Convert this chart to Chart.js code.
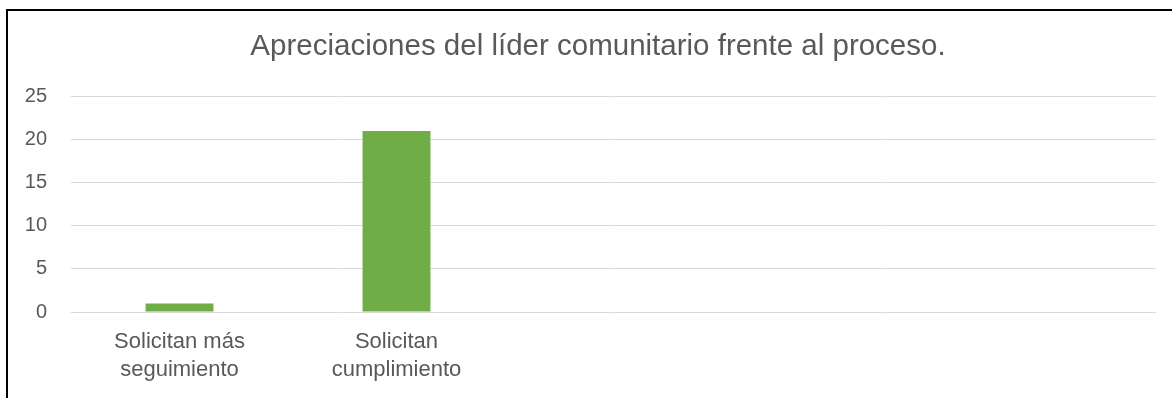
<!DOCTYPE html>
<html>
<head>
<meta charset="utf-8">
<script src="https://cdn.jsdelivr.net/npm/chart.js@4/dist/chart.umd.min.js"></script>
<style>
  html, body { margin: 0; padding: 0; background: #fff; overflow: hidden; }
  body { width: 1172px; height: 398px; position: relative; }
  #frame {
    position: absolute; left: 6px; top: 9px;
    width: 1196px; height: 416px;
    border: 2px solid #000;
  }
  #chart { display: block; }
</style>
</head>
<body>
<div id="frame">
  <canvas id="chart" width="1196" height="416"></canvas>
</div>
<script>
// =====================
// DATA
// =====================
const chartTitle = 'Apreciaciones del líder comunitario frente al proceso.';
const categories = [
  ['Solicitan más', 'seguimiento'],
  ['Solicitan', 'cumplimiento'],
  '', '', ''
];
const counts = [1, 21, null, null, null];
const yTicks = [0, 5, 10, 15, 20, 25];

const textColor = '#595959';
const sans = "'Liberation Sans', Arial, sans-serif";

// title is centred on the whole frame, not on the plot
const titleOffset = {
  id: 'titleOffset',
  afterLayout(chart) {
    if (chart.titleBlock) chart.titleBlock.left = 32;
  }
};

// =====================
// CHART
// =====================
new Chart(document.getElementById('chart'), {
  type: 'bar',
  data: {
    labels: categories,
    datasets: [{
      data: counts,
      backgroundColor: '#70AD47',
      borderWidth: 0,
      barPercentage: 0.313,
      categoryPercentage: 1
    }]
  },
  plugins: [titleOffset],
  options: {
    responsive: false,
    animation: false,
    layout: { padding: { left: 0, right: 48, top: 0, bottom: 0 } },
    plugins: {
      legend: { display: false },
      tooltip: { enabled: false },
      title: {
        display: true,
        text: chartTitle,
        color: textColor,
        font: { family: sans, size: 29.5, weight: 'normal', lineHeight: 1.2 },
        padding: { top: 18, bottom: 32.2 }
      }
    },
    scales: {
      x: {
        grid: { display: false, drawTicks: false },
        border: { display: false },
        ticks: {
          color: textColor,
          padding: 16,
          maxRotation: 0,
          autoSkip: false,
          font: { family: sans, size: 22, lineHeight: 1.26 }
        },
        afterFit: scale => { scale.height = 115; }
      },
      y: {
        min: yTicks[0],
        max: yTicks[yTicks.length - 1],
        grid: { color: '#d9d9d9', lineWidth: 1, drawTicks: false },
        border: { display: false },
        ticks: {
          stepSize: yTicks[1] - yTicks[0],
          color: textColor,
          padding: 24,
          font: { family: sans, size: 20 }
        },
        afterFit: scale => { scale.width = 63; }
      }
    }
  }
});
</script>
</body>
</html>
